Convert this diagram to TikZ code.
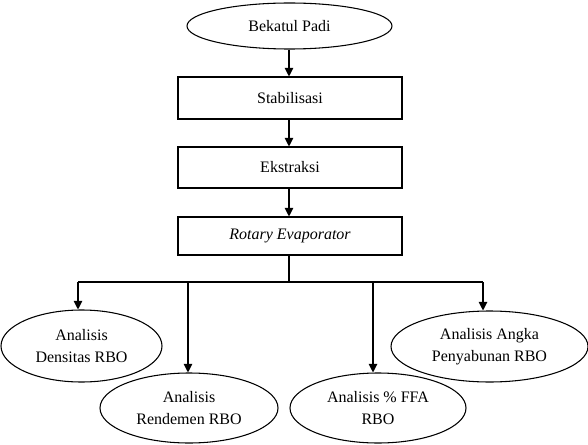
\documentclass[tikz,border=0pt]{standalone}
\usepackage{fontspec}
\setmainfont{Liberation Serif}
\usetikzlibrary{shapes.geometric,arrows.meta}
\begin{document}
\begin{tikzpicture}[x=0.75pt,y=-0.75pt,
  every node/.style={font=\fontsize{12pt}{16.5pt}\selectfont, align=center, inner sep=0pt, line width=0.8pt},
  oval/.style={draw, ellipse},
  stepbox/.style={draw, rectangle, minimum width=168pt},
  arr/.style={line width=0.8pt, -{Triangle[length=6.5pt,width=6.5pt]}},
  ln/.style={line width=0.8pt}]
\useasboundingbox (0,0) rectangle (588,445);
\node[oval, minimum width=153.75pt, minimum height=34.5pt] (padi) at (289.5,26) {Bekatul Padi};
\node[stepbox, minimum height=31.5pt] (stab) at (290,98) {Stabilisasi};
\node[stepbox, minimum height=30.75pt] (eks) at (290,167.5) {Ekstraksi};
\node[stepbox, minimum height=28.5pt] (rot) at (290,236) {\itshape Rotary Evaporator};
\node[oval, minimum width=120.75pt, minimum height=54pt] (dens) at (81.5,346) {Analisis\\Densitas RBO};
\node[oval, minimum width=133.5pt, minimum height=52.5pt] (rend) at (189,408) {Analisis\\Rendemen RBO};
\node[oval, minimum width=132pt, minimum height=52.5pt] (ffa) at (378,408) {Analisis \% FFA\\RBO};
\node[oval, minimum width=147.75pt, minimum height=53.25pt] (angka) at (489.5,346.5) {Analisis Angka\\Penyabunan RBO};
\coordinate (split) at (289,282);
\coordinate (b1) at (78,282);
\coordinate (b2) at (188,282);
\coordinate (b3) at (373,282);
\coordinate (b4) at (483,282);
\draw[arr] (padi.south -| split) -- (stab.north -| split);
\draw[arr] (stab.south -| split) -- (eks.north -| split);
\draw[arr] (eks.south -| split) -- (rot.north -| split);
\draw[ln] (rot.south -| split) -- (split);
\draw[ln] (b1) -- (b4);
\draw[arr] (b1) -- (dens.north -| b1);
\draw[arr] (b2) -- (rend.north -| b2);
\draw[arr] (b3) -- (ffa.north -| b3);
\draw[arr] (b4) -- (angka.north -| b4);
\end{tikzpicture}
\end{document}
